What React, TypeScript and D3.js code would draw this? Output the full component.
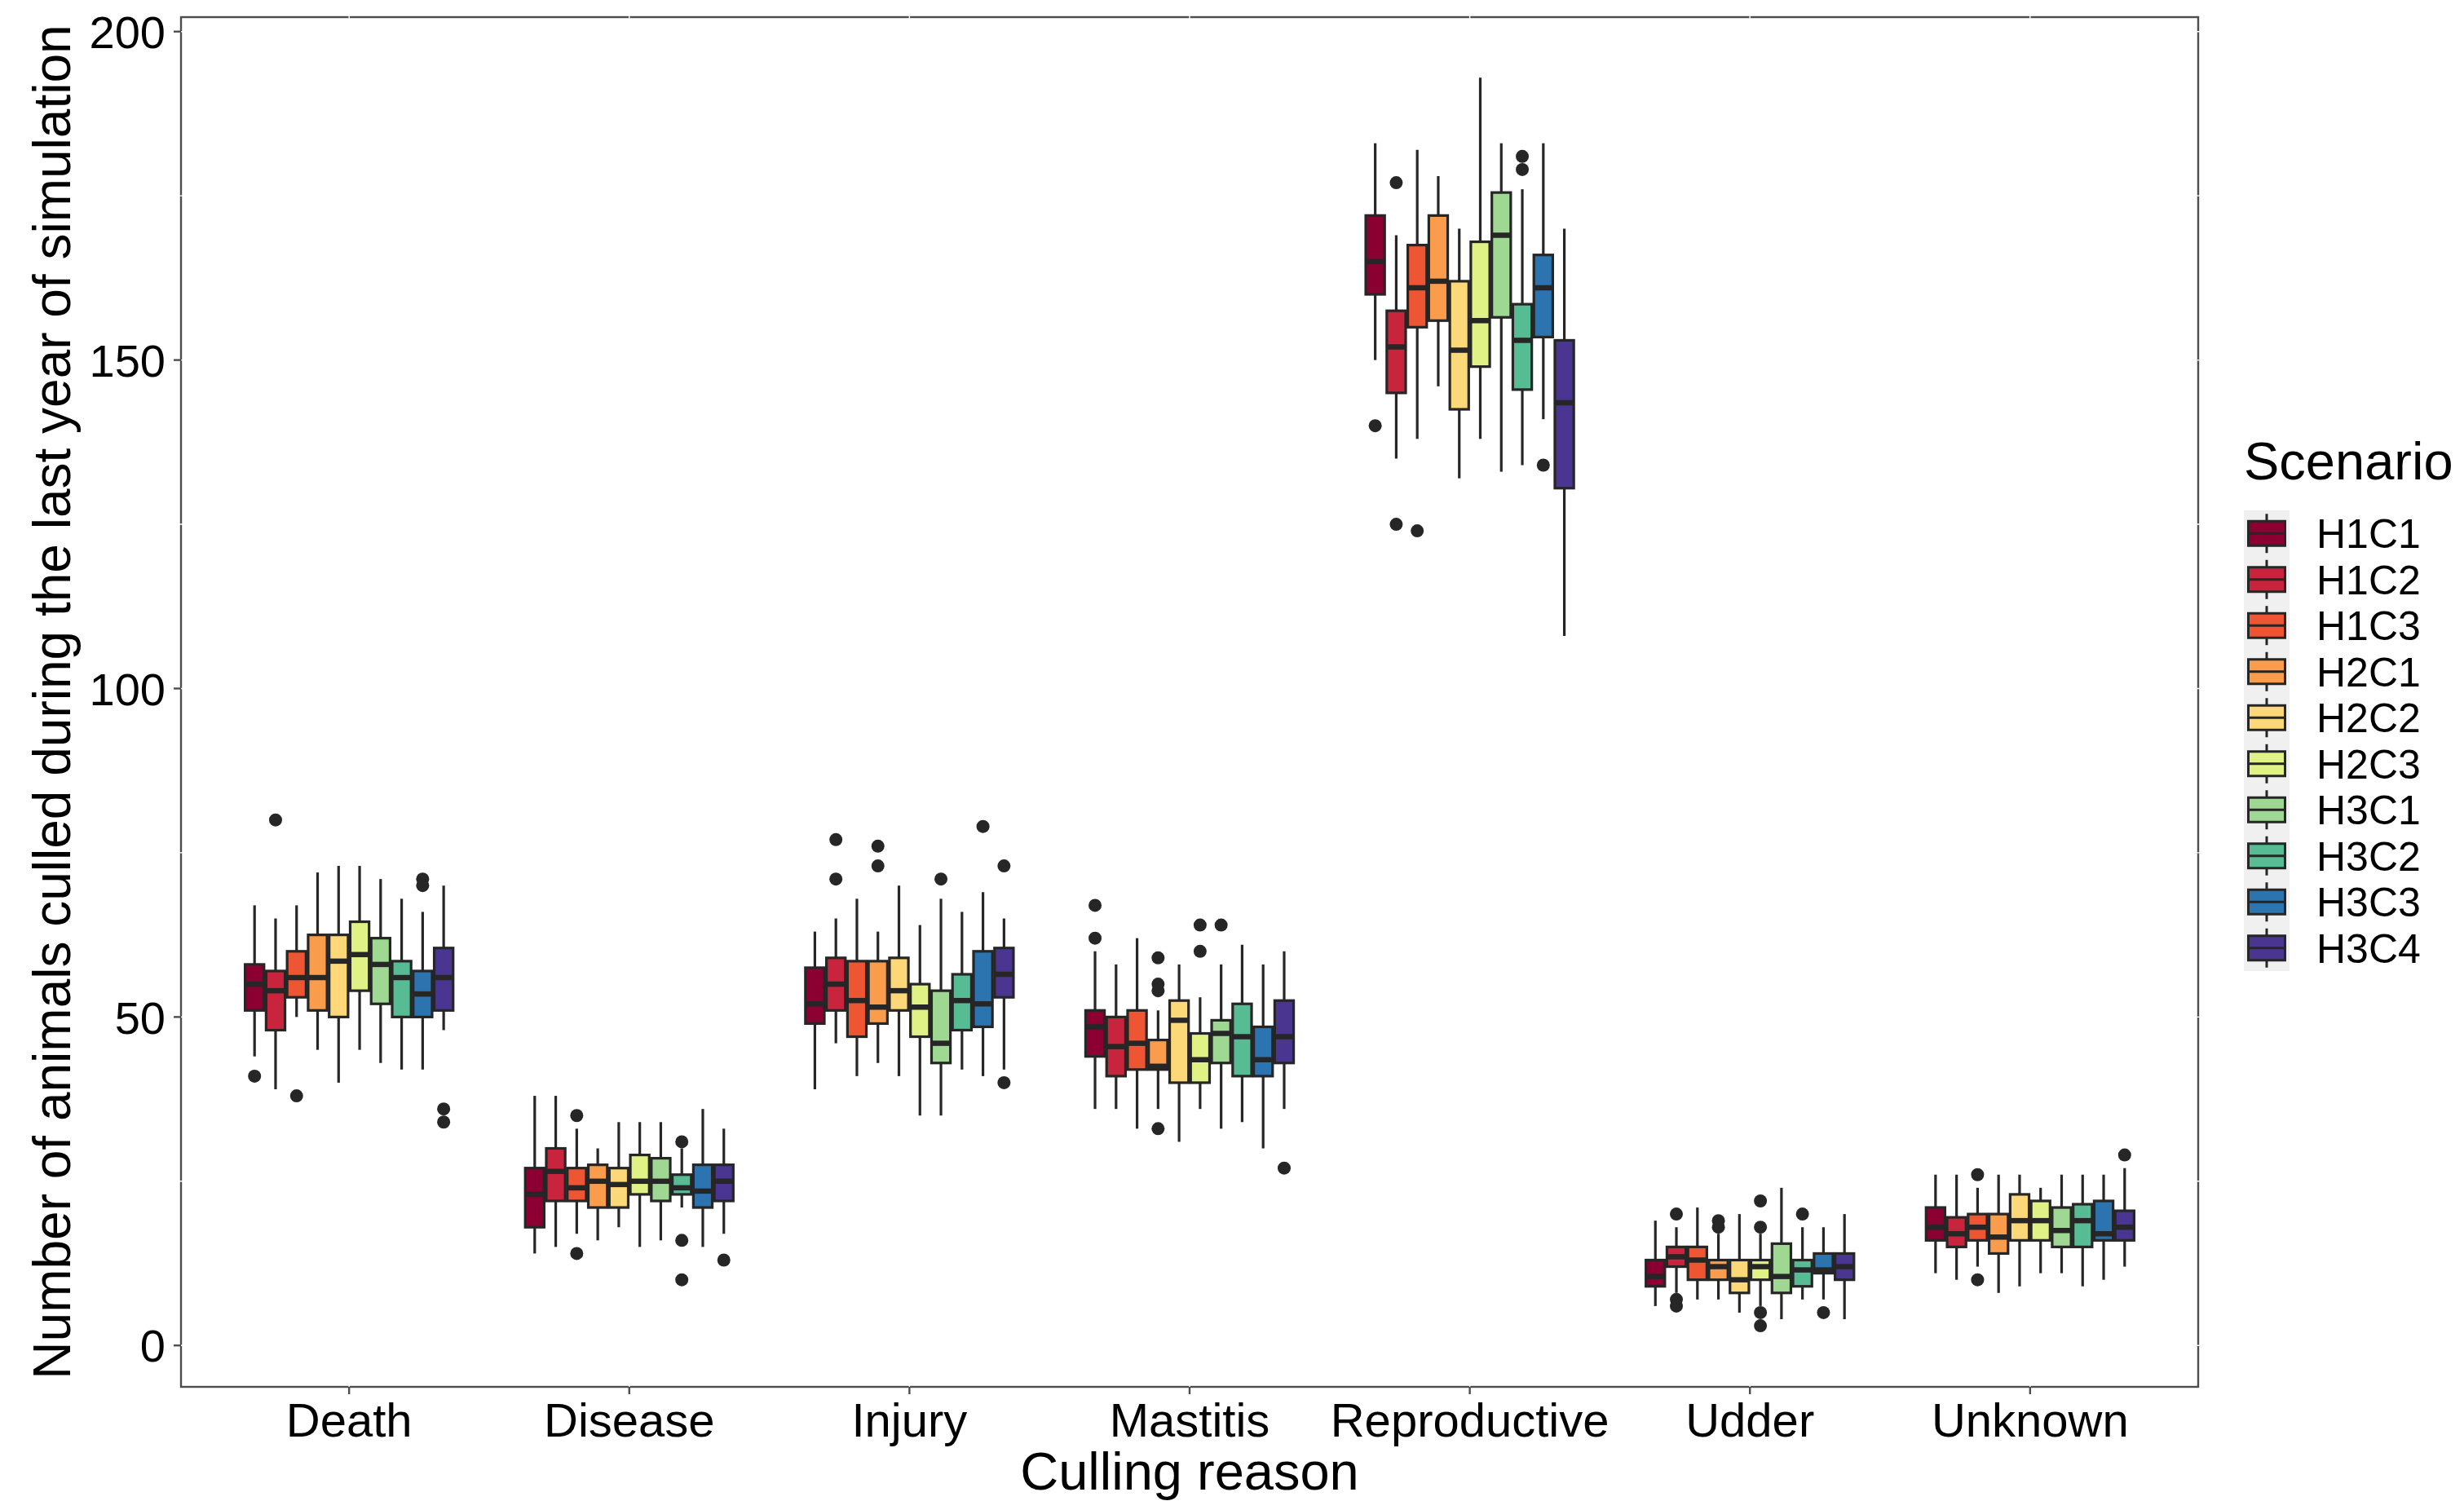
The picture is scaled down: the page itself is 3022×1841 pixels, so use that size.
import {useEffect} from 'react';
import * as d3 from 'd3';

// categories (x) and scenarios (dodge groups)
const reasons = ['Death', 'Disease', 'Injury', 'Mastitis', 'Reproductive', 'Udder', 'Unknown'];
const scenarios = ['H1C1', 'H1C2', 'H1C3', 'H2C1', 'H2C2', 'H2C3', 'H3C1', 'H3C2', 'H3C3', 'H3C4'];
const colors = ['#8b0031', '#c9243d', '#ee5533', '#f99d4d', '#fcd878', '#e0f286', '#9ed892', '#57bb94', '#2b74b0', '#4a3690'];
const yTicks = [0, 50, 100, 150, 200];
const yMinor = [25, 75, 125, 175];

// [lower whisker, q1, median, q3, upper whisker] per scenario
const death = [
	[44, 51, 55, 58, 67], [39, 48, 54, 57, 65], [50, 53, 56, 60, 67], [45, 51, 56, 62.5, 72], [40, 50, 58.5, 62.5, 73],
	[45, 54, 59.5, 64.5, 73], [43, 52, 58, 62, 71], [42, 50, 56, 58.5, 68], [42, 50, 53.5, 57, 66], [48, 51, 56, 60.5, 70]
];
const deathOut = [[41], [80], [38], [], [], [], [], [], [71, 70], [36, 34]];

const disease = [
	[14, 18, 23, 27, 38], [15, 22, 26.5, 30, 38], [17, 22, 24, 27, 33], [16, 21, 25, 27.5, 30], [18, 21, 24.5, 27, 34],
	[15, 23, 25, 29, 34], [16, 22, 25, 28.5, 34], [21, 23, 24, 26, 30], [15, 21, 23.5, 27.5, 36], [17, 22, 25, 27.5, 33]
];
const diseaseOut = [[], [], [35, 14], [], [], [], [], [31, 16, 10], [], [13]];

const injury = [
	[39, 49, 52, 57.5, 63], [46, 51, 55, 59, 65], [41, 47, 52.5, 58.5, 68], [43, 49, 51.5, 58.5, 63], [41, 51, 54, 59, 70],
	[35, 47, 51.5, 55, 64], [35, 43, 46, 54, 68], [42, 48, 52.5, 56.5, 66], [41, 48.5, 52, 60, 69], [42, 53, 56.5, 60.5, 65]
];
const injuryOut = [[], [77, 71], [], [76, 73], [], [], [71], [], [79], [73, 40]];

const mastitis = [
	[36, 44, 48.5, 51, 60], [36, 41, 45.5, 50, 58], [33, 42, 46, 51, 62], [36, 42, 42.5, 46.5, 51], [31, 40, 49.5, 52.5, 58],
	[36, 40, 43.5, 47.5, 53], [33, 43, 47.5, 49.5, 58], [34, 41, 47, 52, 61], [30, 41, 43.5, 48.5, 58], [36, 43, 47, 52.5, 60]
];
const mastitisOut = [[67, 62], [], [], [59, 55, 54, 33], [], [64, 60], [64], [], [], [27]];

const reproductive = [
	[150, 160, 165, 172, 183], [135, 145, 152, 157.5, 169], [138, 155, 161, 167.5, 182], [146, 156, 162, 172, 178], [132, 142.5, 151.5, 162, 170],
	[138, 149, 156, 168, 193], [133, 156.5, 169, 175.5, 183], [134, 145.5, 153, 158.5, 176], [141, 153.5, 161, 166, 183], [108, 130.5, 143.5, 153, 170]
];
const reproductiveOut = [[140], [177, 125], [124], [], [], [], [], [181, 179], [134], []];

const udder = [
	[6, 9, 10.5, 13, 19], [8, 12, 13.5, 15, 18], [7, 10, 13, 15, 21], [7, 10, 12, 13, 17], [5, 8, 10, 13, 20],
	[6, 10, 12, 13, 17], [4, 8, 10.5, 15.5, 24], [7, 9, 11.5, 13, 18], [7, 11, 11.5, 14, 18], [4, 10, 12, 14, 20]
];
const udderOut = [[], [20, 7, 6], [], [19, 18], [], [22, 18, 5, 3], [], [20], [5], []];

const unknown = [
	[11, 16, 18, 21, 26], [10, 15, 17, 19.5, 26], [12, 16, 18, 20, 24], [8, 14, 16.5, 20, 26], [9, 16, 19, 23, 26],
	[11, 16, 19, 22, 24], [11, 15, 17.5, 21, 26], [9, 15, 19, 21.5, 26], [10, 16, 17, 22, 26], [12, 16, 18, 20.5, 27]
];
const unknownOut = [[], [], [26, 10], [], [], [], [], [], [], [29]];

const stats = [death, disease, injury, mastitis, reproductive, udder, unknown];
const outliers = [deathOut, diseaseOut, injuryOut, mastitisOut, reproductiveOut, udderOut, unknownOut];

const W = 3022, H = 1841;
const FONT = '"Liberation Sans", Arial, Helvetica, sans-serif';
const INK = '#262626';
const AXIS = '#4d4d4d';

export default function App(){
	useEffect(()=>{
		document.body.style.margin = '0';
	}, []);

	const left = 222, right = 2696, top = 21, bottom = 1701;

	const x = d3.scalePoint().domain(reasons).range([left, right]).padding(0.6);
	const step = x.step();
	const dodge = d3.scaleBand().domain(scenarios).range([-0.375 * step, 0.375 * step]).paddingInner(0.1).paddingOuter(0.05);
	const bw = dodge.bandwidth();
	const y = d3.scaleLinear().domain([-6.3, 202.2]).range([bottom, top]);

	// legend geometry
	const legX = 2752, legY = 626, keyH = 56.5, keyW = 56;

	return (<svg width={W} height={H} style={{display: 'block', background: '#fff'}} fontFamily={FONT}>
		<rect x={0} y={0} width={W} height={H} fill="#fff" />

		{/* panel border, with white grid lines cutting through it as in the original */}
		<rect x={left} y={top} width={right - left} height={bottom - top} fill="none" stroke={AXIS} strokeWidth={2.4} />
		{yTicks.concat(yMinor).map((t)=>{
			return (<line key={'g' + t} x1={left - 2} x2={right + 2} y1={y(t)} y2={y(t)} stroke="#fff" strokeWidth={1.4} />);
		})}
		{reasons.map((r)=>{
			return (<line key={'gx' + r} x1={x(r)} x2={x(r)} y1={top - 2} y2={bottom + 2} stroke="#fff" strokeWidth={1.4} />);
		})}

		{/* boxes */}
		{reasons.map((r, ci)=>{
			return (<g key={r}>
				{scenarios.map((s, si)=>{
					const [lo, q1, med, q3, hi] = stats[ci][si]
						, cx = (x(r) as number) + (dodge(s) as number) + bw / 2
						;

					return (<g key={s}>
						<line x1={cx} x2={cx} y1={y(hi)} y2={y(q3)} stroke={INK} strokeWidth={3.2} />
						<line x1={cx} x2={cx} y1={y(q1)} y2={y(lo)} stroke={INK} strokeWidth={3.2} />
						<rect x={cx - bw / 2} y={y(q3)} width={bw} height={y(q1) - y(q3)} fill={colors[si]} stroke={INK} strokeWidth={3.2} />
						<line x1={cx - bw / 2} x2={cx + bw / 2} y1={y(med)} y2={y(med)} stroke={INK} strokeWidth={6.5} />
						{outliers[ci][si].map((o, oi)=>{
							return (<circle key={oi} cx={cx} cy={y(o)} r={8} fill={INK} />);
						})}
					</g>);
				})}
			</g>);
		})}

		{/* y axis */}
		{yTicks.map((t)=>{
			return (<g key={'yt' + t}>
				<line x1={left - 9} x2={left} y1={y(t)} y2={y(t)} stroke={AXIS} strokeWidth={2.4} />
				<text x={203} y={y(t)} dy="0.36em" textAnchor="end" fontSize={56} fill="#000">{t}</text>
			</g>);
		})}
		<text transform={`translate(86, ${(top + bottom) / 2}) rotate(-90)`} textAnchor="middle" fontSize={64} fill="#000">Number of animals culled during the last year of simulation</text>

		{/* x axis */}
		{reasons.map((r)=>{
			return (<g key={'xt' + r}>
				<line x1={x(r)} x2={x(r)} y1={bottom} y2={bottom + 9} stroke={AXIS} strokeWidth={2.4} />
				<text x={x(r)} y={1762} textAnchor="middle" fontSize={58} fill="#000">{r}</text>
			</g>);
		})}
		<text x={(left + right) / 2} y={1827} textAnchor="middle" fontSize={65} fill="#000">Culling reason</text>

		{/* legend */}
		<text x={legX} y={588} fontSize={65} fill="#000">Scenario</text>
		<rect x={legX} y={legY} width={keyW} height={keyH * scenarios.length} fill="#f0f0f0" />
		{scenarios.map((s, i)=>{
			const cy = legY + keyH * i + keyH / 2
				, cx = legX + keyW / 2
				;

			return (<g key={'lg' + s}>
				<line x1={cx} x2={cx} y1={cy - 24} y2={cy + 24} stroke={INK} strokeWidth={3} />
				<rect x={cx - 22.5} y={cy - 15} width={45} height={30} fill={colors[i]} stroke={INK} strokeWidth={3} />
				<line x1={cx - 22.5} x2={cx + 22.5} y1={cy} y2={cy} stroke={INK} strokeWidth={3} />
				<text x={2841} y={cy} dy="0.36em" fontSize={50} fill="#000">{s}</text>
			</g>);
		})}
	</svg>);
}
